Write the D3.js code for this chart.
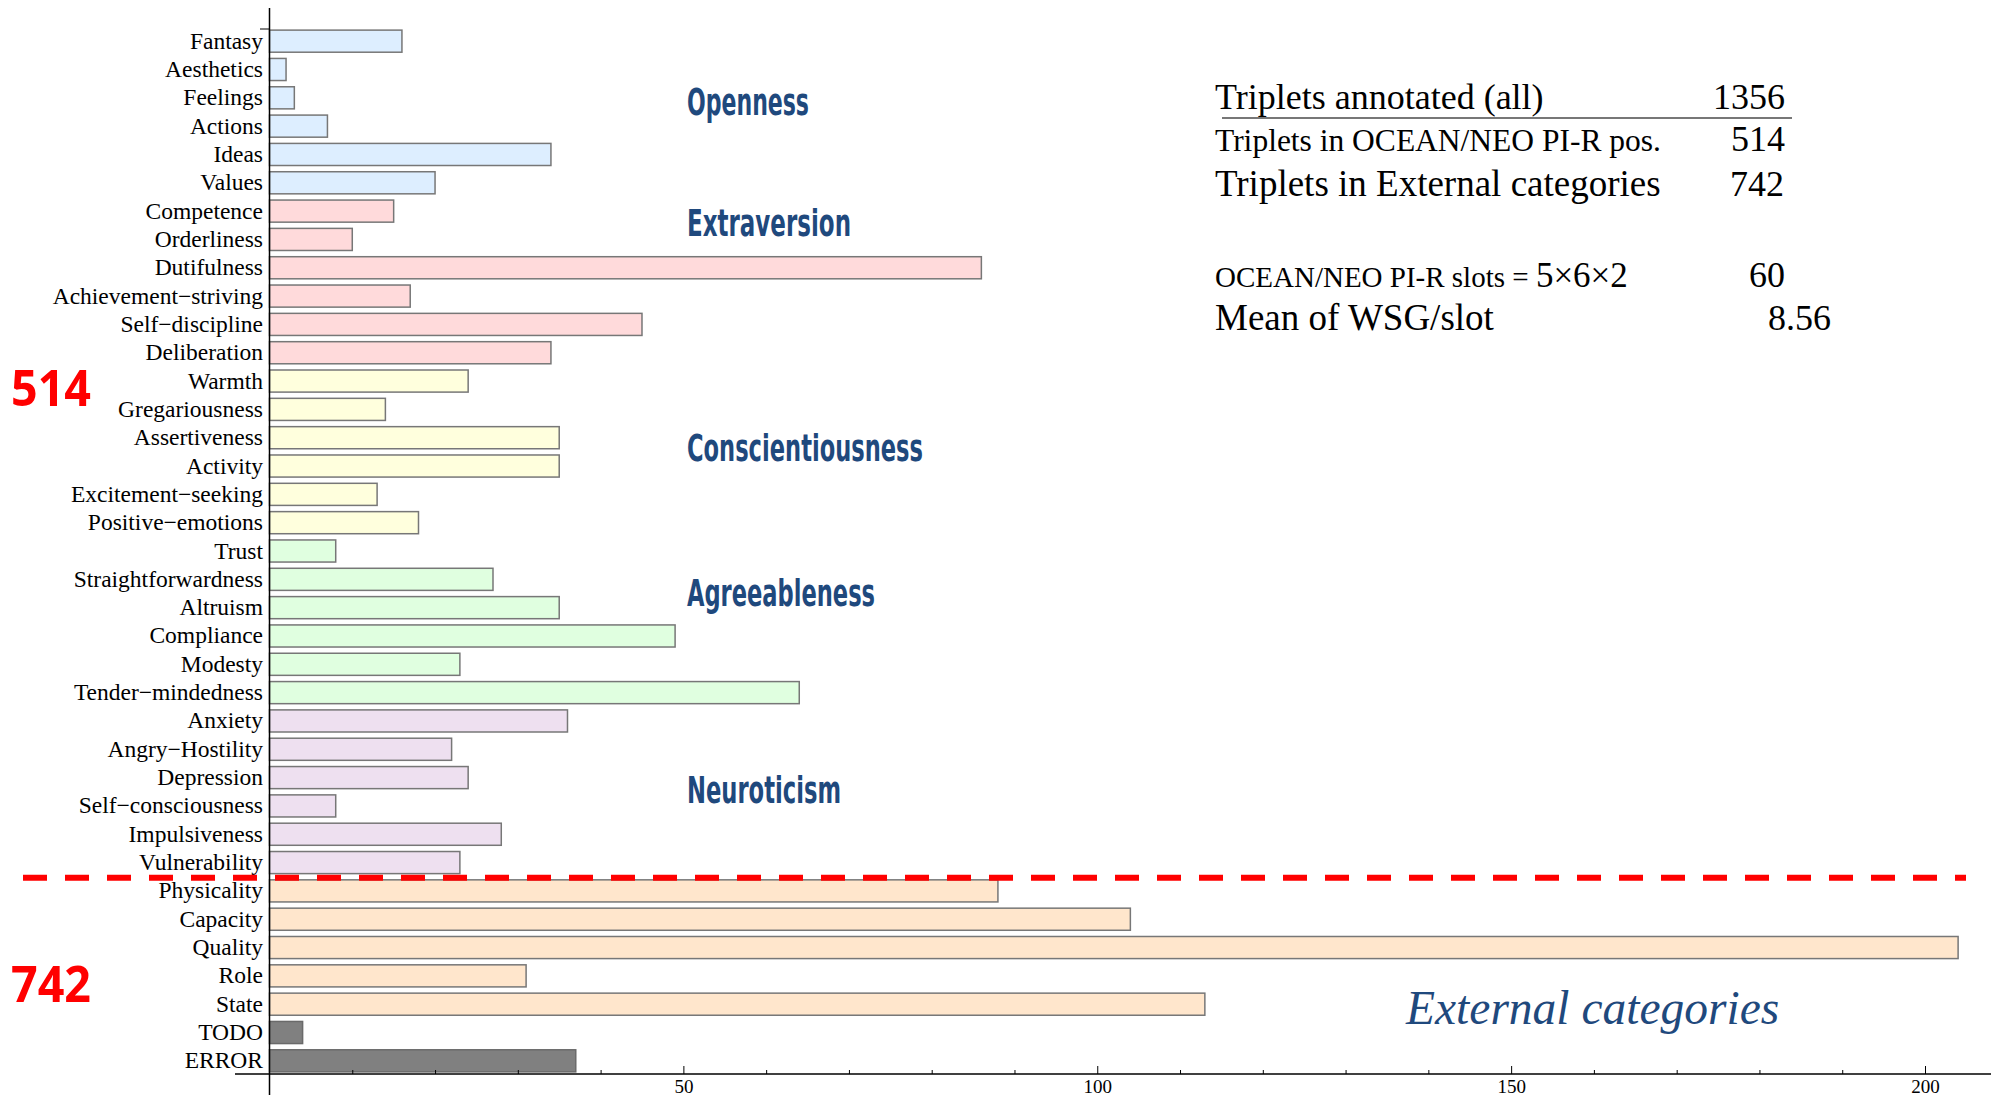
<!DOCTYPE html>
<html>
<head>
<meta charset="utf-8">
<script src="https://cdn.jsdelivr.net/npm/d3@7"></script>
<style>
  body { margin: 0; background: #fff; }
  svg { display: block; }
</style>
</head>
<body>
<svg width="1991" height="1101"></svg>
<script>
var categories = ["Fantasy", "Aesthetics", "Feelings", "Actions", "Ideas", "Values",
  "Competence", "Orderliness", "Dutifulness", "Achievement\u2212striving", "Self\u2212discipline", "Deliberation",
  "Warmth", "Gregariousness", "Assertiveness", "Activity", "Excitement\u2212seeking", "Positive\u2212emotions",
  "Trust", "Straightforwardness", "Altruism", "Compliance", "Modesty", "Tender\u2212mindedness",
  "Anxiety", "Angry\u2212Hostility", "Depression", "Self\u2212consciousness", "Impulsiveness", "Vulnerability",
  "Physicality", "Capacity", "Quality", "Role", "State", "TODO", "ERROR"];

var counts = [16, 2, 3, 7, 34, 20,
  15, 10, 86, 17, 45, 34,
  24, 14, 35, 35, 13, 18,
  8, 27, 35, 49, 23, 64,
  36, 22, 24, 8, 28, 23,
  88, 104, 204, 31, 113, 4, 37];

var groups = ["O","O","O","O","O","O",
  "C","C","C","C","C","C",
  "E","E","E","E","E","E",
  "A","A","A","A","A","A",
  "N","N","N","N","N","N",
  "X","X","X","X","X","U","U"];

var groupTitles = ["Openness", "Extraversion", "Conscientiousness", "Agreeableness", "Neuroticism"];
var tickValues = [50, 100, 150, 200];

var summaryLabels = ["Triplets annotated (all)", "Triplets in OCEAN/NEO PI-R pos.",
  "Triplets in External categories", "OCEAN/NEO PI-R slots = ", "Mean of WSG/slot"];
var summaryValues = ["1356", "514", "742", "60", "8.56"];
var sideTotals = ["514", "742"];

var svg = d3.select("svg");

var x = d3.scaleLinear().domain([0, 200]).range([269.5, 1925]);
var y = d3.scaleBand().domain(categories).range([27, 1075])
    .paddingInner(0.22).paddingOuter(0.11);

var color = d3.scaleOrdinal()
    .domain(["O", "C", "E", "A", "N", "X", "U"])
    .range(["#ddeeff", "#ffdadb", "#ffffdd", "#e0ffe0", "#eee0f0", "#ffe6cc", "#808080"]);

// bars
svg.append("g").selectAll("rect")
    .data(categories)
    .enter().append("rect")
    .attr("x", x(0))
    .attr("y", function(d) { return y(d); })
    .attr("width", function(d, i) { return x(counts[i]) - x(0); })
    .attr("height", y.bandwidth())
    .style("fill", function(d, i) { return color(groups[i]); })
    .style("stroke", function(d, i) { return groups[i] == "U" ? "#6a6a6a" : "#777"; })
    .style("stroke-width", 1.5);

// category labels
svg.append("g").selectAll("text")
    .data(categories)
    .enter().append("text")
    .attr("x", 263)
    .attr("y", function(d) { return y(d) + y.bandwidth() / 2; })
    .attr("dy", "0.32em")
    .attr("text-anchor", "end")
    .style("font-family", "'Liberation Serif', 'Times New Roman', serif")
    .style("font-size", "23.5px")
    .text(function(d) { return d; });

// axes
var axis = d3.axisBottom(x)
    .tickValues(d3.range(10, 210, 10))
    .tickSize(-4)
    .tickPadding(6)
    .tickFormat(function(d) { return tickValues.indexOf(d) >= 0 ? d : ""; });

var gx = svg.append("g")
    .attr("transform", "translate(0,1074)")
    .call(axis);
gx.select(".domain").remove();
gx.selectAll(".tick line")
    .attr("y2", function(d) { return tickValues.indexOf(d) >= 0 ? -8 : -4; })
    .style("stroke", "#000");
gx.selectAll(".tick text")
    .style("font-family", "'Liberation Serif', serif")
    .style("font-size", "19px")
    .style("fill", "#000");

svg.append("line")
    .attr("x1", 235).attr("x2", 1991)
    .attr("y1", 1074).attr("y2", 1074)
    .style("stroke", "#000").style("stroke-width", 1.5);
svg.append("line")
    .attr("x1", x(0)).attr("x2", x(0))
    .attr("y1", 8).attr("y2", 1095)
    .style("stroke", "#000").style("stroke-width", 1.5);
svg.append("line")
    .attr("x1", 260).attr("x2", x(0))
    .attr("y1", 29).attr("y2", 29)
    .style("stroke", "#000").style("stroke-width", 1);

// trait titles
var titleY = [115, 236, 461, 606, 803];
var titleW = [122, 164, 236, 188, 154];
svg.append("g").selectAll("text")
    .data(groupTitles)
    .enter().append("text")
    .attr("x", 687)
    .attr("y", function(d, i) { return titleY[i]; })
    .attr("textLength", function(d, i) { return titleW[i]; })
    .attr("lengthAdjust", "spacingAndGlyphs")
    .style("font-family", "'DejaVu Sans Condensed', 'DejaVu Sans', sans-serif")
    .style("font-weight", "bold")
    .style("font-size", "38px")
    .style("fill", "#1f497d")
    .text(function(d) { return d; });

// dashed separator between facets and external categories
var splitY = y(categories[30]) - 2;
svg.append("line")
    .attr("x1", 23).attr("x2", 1966)
    .attr("y1", splitY).attr("y2", splitY)
    .style("stroke", "#ff0000")
    .style("stroke-width", 6)
    .style("stroke-dasharray", "24,18");

// big red totals
var sideY = [406, 1002];
svg.append("g").selectAll("text")
    .data(sideTotals)
    .enter().append("text")
    .attr("x", 11)
    .attr("y", function(d, i) { return sideY[i]; })
    .attr("textLength", 80)
    .attr("lengthAdjust", "spacingAndGlyphs")
    .style("font-family", "'Open Sans', 'Noto Sans', sans-serif")
    .style("font-weight", "bold")
    .style("font-size", "51px")
    .style("fill", "#ff0000")
    .text(function(d) { return d; });

// summary table
var rowY = [109, 151, 196, 287, 330];
var rowSize = [36, 31.5, 37, 29, 37];
var valRight = [1785, 1785, 1784, 1785, 1831];
var table = svg.append("g")
    .style("font-family", "'Liberation Serif', 'Times New Roman', serif")
    .style("fill", "#000");

table.selectAll("text.lab")
    .data(summaryLabels)
    .enter().append("text")
    .attr("class", "lab")
    .attr("x", 1215)
    .attr("y", function(d, i) { return rowY[i]; })
    .style("font-size", function(d, i) { return rowSize[i] + "px"; })
    .each(function(d, i) {
      var t = d3.select(this);
      t.append("tspan").text(d);
      if (i == 3) t.append("tspan").style("font-size", "35px").text("5\u00d76\u00d72");
    });

table.selectAll("text.val")
    .data(summaryValues)
    .enter().append("text")
    .attr("class", "val")
    .attr("x", function(d, i) { return valRight[i]; })
    .attr("y", function(d, i) { return rowY[i]; })
    .attr("text-anchor", "end")
    .style("font-size", "36px")
    .text(function(d) { return d; });

svg.append("line")
    .attr("x1", 1222).attr("x2", 1792)
    .attr("y1", 118).attr("y2", 118)
    .style("stroke", "#777").style("stroke-width", 2);

svg.append("text")
    .attr("x", 1406)
    .attr("y", 1024)
    .style("font-family", "'Liberation Serif', 'Times New Roman', serif")
    .style("font-style", "italic")
    .style("font-size", "47.5px")
    .style("fill", "#1f497d")
    .text("External categories");
</script>
</body>
</html>
